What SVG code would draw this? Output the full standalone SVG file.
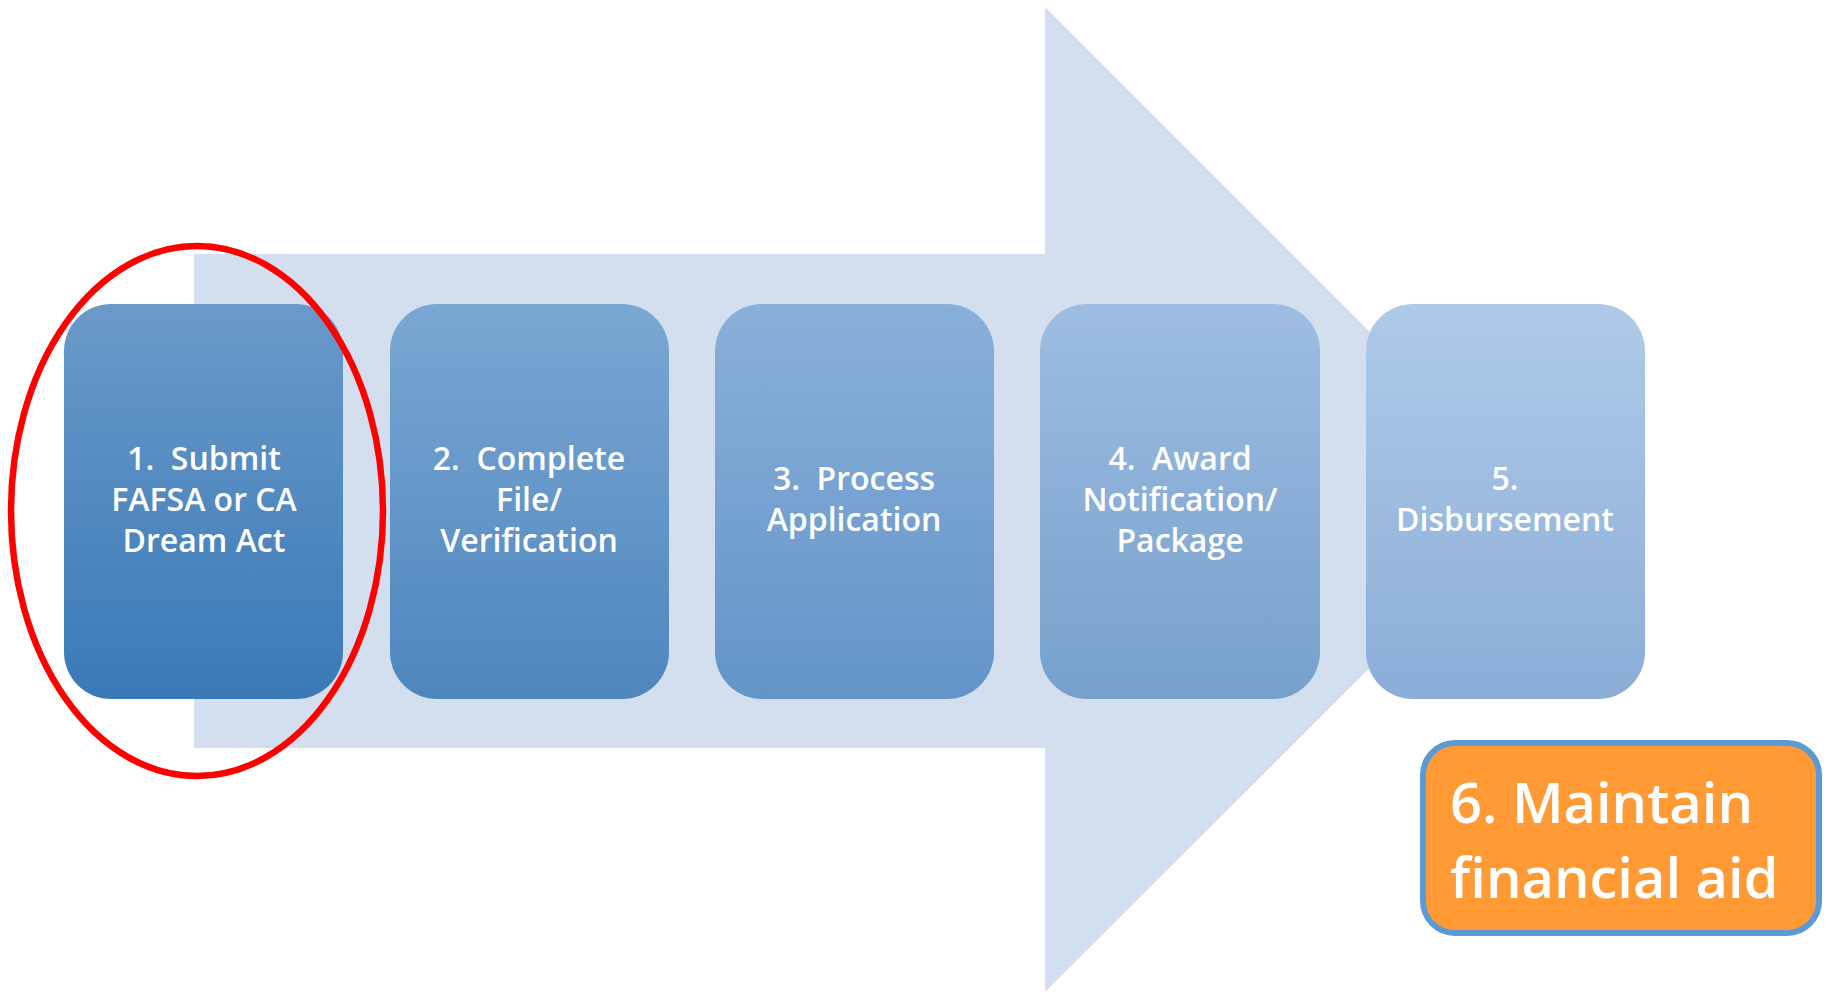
<svg xmlns="http://www.w3.org/2000/svg" width="1829" height="992" viewBox="0 0 1829 992">
<defs>
<linearGradient id="g1" x1="0" y1="0" x2="0" y2="1"><stop offset="0" stop-color="#6A9AC9"/><stop offset="1" stop-color="#3A79B7"/></linearGradient>
<linearGradient id="g2" x1="0" y1="0" x2="0" y2="1"><stop offset="0" stop-color="#7BA7D3"/><stop offset="1" stop-color="#4E86BE"/></linearGradient>
<linearGradient id="g3" x1="0" y1="0" x2="0" y2="1"><stop offset="0" stop-color="#8AB0DA"/><stop offset="1" stop-color="#6394C8"/></linearGradient>
<linearGradient id="g4" x1="0" y1="0" x2="0" y2="1"><stop offset="0" stop-color="#9EBDE2"/><stop offset="1" stop-color="#76A0CC"/></linearGradient>
<linearGradient id="g5" x1="0" y1="0" x2="0" y2="1"><stop offset="0" stop-color="#AFCAE9"/><stop offset="1" stop-color="#8BADD6"/></linearGradient>
<style>
.box{stroke:none}
.lbl{font-family:"Open Sans","Liberation Sans",sans-serif;font-weight:600;font-size:32px;fill:#FFFFFF;text-anchor:middle;white-space:pre}
.big{font-family:"Open Sans","Liberation Sans",sans-serif;font-weight:600;font-size:56px;fill:#FFFFFF}
</style>
</defs>
<rect width="1829" height="992" fill="#FFFFFF"/>
<g id="arrow">
<polygon points="194,254 1045,254 1045,7 1538,500 1045,992 1045,748 194,748" fill="#D3DEEF"/>
</g>
<g id="step1">
<rect class="box" x="64" y="304" width="279" height="395" rx="47" fill="url(#g1)"/>
<text class="lbl" x="204" y="470" xml:space="preserve">1.  Submit</text>
<text class="lbl" x="204" y="511">FAFSA or CA</text>
<text class="lbl" x="204" y="552">Dream Act</text>
</g>
<g id="step2">
<rect class="box" x="390" y="304" width="279" height="395" rx="47" fill="url(#g2)"/>
<text class="lbl" x="529" y="470" xml:space="preserve">2.  Complete</text>
<text class="lbl" x="529" y="511">File/</text>
<text class="lbl" x="529" y="552">Verification</text>
</g>
<g id="step3">
<rect class="box" x="715" y="304" width="279" height="395" rx="47" fill="url(#g3)"/>
<text class="lbl" x="854" y="490" xml:space="preserve">3.  Process</text>
<text class="lbl" x="854" y="531">Application</text>
</g>
<g id="step4">
<rect class="box" x="1040" y="304" width="280" height="395" rx="47" fill="url(#g4)"/>
<text class="lbl" x="1180" y="470" xml:space="preserve">4.  Award</text>
<text class="lbl" x="1180" y="511">Notification/</text>
<text class="lbl" x="1180" y="552">Package</text>
</g>
<g id="step5">
<rect class="box" x="1366" y="304" width="279" height="395" rx="47" fill="url(#g5)"/>
<text class="lbl" x="1505" y="490">5.</text>
<text class="lbl" x="1505" y="531">Disbursement</text>
</g>
<g id="highlight">
<ellipse cx="197" cy="511" rx="186" ry="265" fill="none" stroke="#FF0000" stroke-width="6.5"/>
</g>
<g id="step6">
<rect x="1423" y="743" width="396" height="190" rx="32" fill="#FF9A35" stroke="#5B9BD5" stroke-width="6"/>
<text class="big" x="1450" y="823">6. Maintain</text>
<text class="big" x="1450" y="898">financial aid</text>
</g>
</svg>
